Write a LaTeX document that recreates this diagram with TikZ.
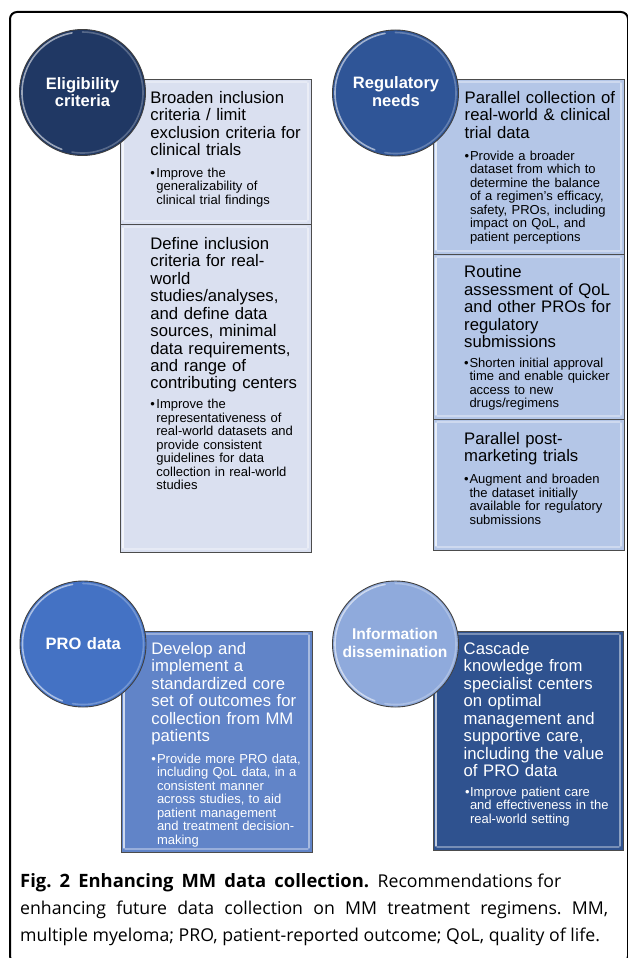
\documentclass[tikz,border=0pt]{standalone}
\usepackage{fontspec}
\setmainfont{Liberation Sans}
\newfontfamily\capfont{Open Sans}
\usetikzlibrary{calc}
\frenchspacing
\definecolor{circA}{HTML}{203864}
\definecolor{circB}{HTML}{2F5597}
\definecolor{circC}{HTML}{4472C4}
\definecolor{circD}{HTML}{8FAADC}
\definecolor{boxA}{HTML}{DAE0F0}
\definecolor{boxB}{HTML}{B4C6E7}
\definecolor{boxC}{HTML}{6184C8}
\definecolor{boxD}{HTML}{2F528F}
\newcommand\panel[6]{%
  \node[panelbox, fill=#6, minimum width={(#4-#2)*1pt}, minimum height={(#5-#3)*1pt}, anchor=north west] (#1) at (#2,#3) {};
  \draw[bevlight] ([shift={(3,4)}]#1.north west) -- ([shift={(3,-4)}]#1.south west);
  \draw[bevlight, opacity=.45] ([shift={(-3,4)}]#1.north east) -- ([shift={(-3,-4)}]#1.south east);
  \draw[bevlight, opacity=.35] ([shift={(4,3)}]#1.north west) -- ([shift={(-4,3)}]#1.north east);
  \draw[bevlight, opacity=.35] ([shift={(4,-3)}]#1.south west) -- ([shift={(-4,-3)}]#1.south east);
}
\newcommand\disc[3]{%
  \node[circ, fill=#3] (#1) at (#2) {};
  \draw[rimlight] (#1.center) ++(-100:60.5) arc[start angle=-100, end angle=-250, radius=60.5];
  \draw[rimlight, opacity=.25] (#1.center) ++(-260:60.5) arc[start angle=-260, end angle=-450, radius=60.5];
}
\begin{document}
\begin{tikzpicture}[x=1pt,y=-1pt,
  panelbox/.style={draw=black!70, line width=0.8pt, inner sep=0pt, outer sep=0pt},
  bevlight/.style={white, line width=1.3pt, opacity=.7, line cap=round},
  rimlight/.style={white, line width=1.6pt, opacity=.55, line cap=round},
  circ/.style={circle, draw=black!75, line width=0.9pt, minimum size=126pt, inner sep=0pt},
  head/.style={anchor=base west, inner sep=0pt, text width=200pt, align=left, font=\fontsize{16.7}{17.45}\selectfont},
  bul/.style={anchor=base west, inner sep=0pt, text width=200pt, align=left, font=\fontsize{13}{13.5}\selectfont},
  dotmark/.style={anchor=base west, inner sep=0pt, font=\fontsize{13}{13.5}\selectfont},
  clab/.style={anchor=base, inner sep=0pt, text width=130pt, align=center, text=white, font=\bfseries\fontsize{16.5}{17.7}\selectfont},
  captext/.style={anchor=base west, inner sep=0pt, font=\capfont\fontsize{17.7}{27}\selectfont\frenchspacing},
]
\useasboundingbox (0,0) rectangle (627,958);
\fill[white] (0,0) rectangle (627,958);
% outer frame
\draw[line width=2pt, rounded corners=7pt] (10,12) rectangle (628,963);

% panels
\panel{pA1}{120}{79}{311}{224}{boxA}
\panel{pA2}{120}{224}{311}{552}{boxA}
\panel{pB1}{433}{79}{624}{254}{boxB}
\panel{pB2}{433}{254}{624}{419}{boxB}
\panel{pB3}{433}{419}{624}{550}{boxB}
\panel{pC}{121}{631}{312}{852}{boxC}
\panel{pD}{433}{631}{623}{850}{boxD}

% circles
\disc{cA}{82.5,92.5}{circA}
\disc{cB}{395.5,93}{circB}
\disc{cC}{83,644}{circC}
\disc{cD}{395.5,644}{circD}

\node[clab] (lA) at (82.5,89) {Eligibility\\criteria};
\node[clab] (lB) at (396,88.7) {Regulatory\\needs};
\node[clab] (lC) at (83.3,649) {PRO data};
\node[clab, font=\bfseries\fontsize{15.6}{17.7}\selectfont] (lD) at (395,639.4) {Information\\dissemination};

% panel A texts
\node[head] (hA1) at (150.2,103.3) {Broaden inclusion\\criteria / limit\\exclusion criteria for\\clinical trials};
\node[dotmark] (dA1) at (150.2,177) {•};
\node[bul] (bA1) at (156.2,177) {Improve the\\generalizability of\\clinical trial findings};

\node[head] (hA2) at (150.2,249.3) {Define inclusion\\criteria for real-\\world\\studies/analyses,\\and define data\\sources, minimal\\data requirements,\\and range of\\contributing centers};
\node[dotmark] (dA2) at (150.2,408.7) {•};
\node[bul] (bA2) at (156.2,408.7) {Improve the\\representativeness of\\real-world datasets and\\provide consistent\\guidelines for data\\collection in real-world\\studies};

% panel B texts
\node[head] (hB1) at (464.5,103.3) {Parallel collection of\\real-world \& clinical\\trial data};
\node[dotmark] (dB1) at (464.5,160.4) {•};
\node[bul] (bB1) at (469.8,160.4) {Provide a broader\\dataset from which to\\determine the balance\\of a regimen’s efficacy,\\safety, PROs, including\\impact on QoL, and\\patient perceptions};

\node[head] (hB2) at (464,277.7) {Routine\\assessment of QoL\\and other PROs for\\regulatory\\submissions};
\node[dotmark] (dB2) at (464,367.4) {•};
\node[bul] (bB2) at (469.3,367.4) {Shorten initial approval\\time and enable quicker\\access to new\\drugs/regimens};

\node[head] (hB3) at (464,444.3) {Parallel post-\\marketing trials};
\node[dotmark] (dB3) at (464,483.7) {•};
\node[bul] (bB3) at (469.3,483.7) {Augment and broaden\\the dataset initially\\available for regulatory\\submissions};

% panel C texts
\node[head, text=white] (hC) at (151.2,654.3) {Develop and\\implement a\\standardized core\\set of outcomes for\\collection from MM\\patients};
\node[dotmark, text=white] (dC) at (151.2,763) {•};
\node[bul, text=white] (bC) at (156.8,763) {Provide more PRO data,\\including QoL data, in a\\consistent manner\\across studies, to aid\\patient management\\and treatment decision-\\making};

% panel D texts
\node[head, text=white] (hD) at (463.5,654.3) {Cascade\\knowledge from\\specialist centers\\on optimal\\management and\\supportive care,\\including the value\\of PRO data};
\node[dotmark, text=white] (dD) at (465,796.4) {•};
\node[bul, text=white] (bD) at (469.8,796.4) {Improve patient care\\and effectiveness in the\\real-world setting};

% caption
\node[captext] (cap1) at (20,887) {\makebox[349pt][s]{\fontsize{18.4}{27}\selectfont\bfseries Fig. 2 Enhancing MM data collection.}\hspace{8.5pt}Recommendations for};
\node[captext] (cap2) at (20,914) {\makebox[588pt][s]{enhancing future data collection on MM treatment regimens. MM,}};
\node[captext] (cap3) at (20,941) {multiple myeloma; PRO, patient-reported outcome; QoL, quality of life.};
\end{tikzpicture}
\end{document}
